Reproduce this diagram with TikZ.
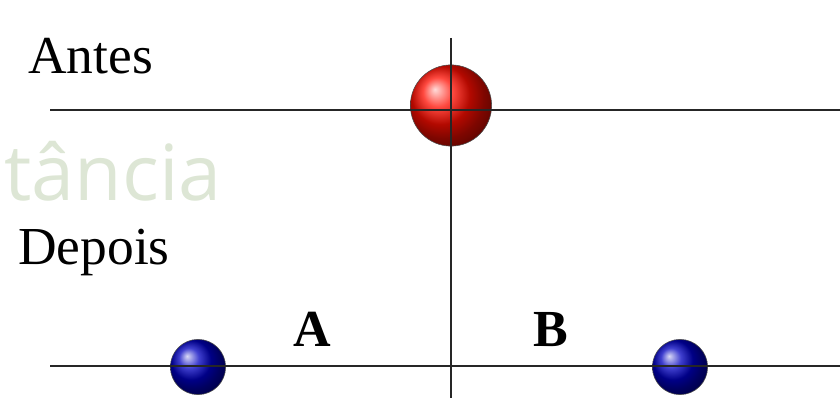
\documentclass[tikz,border=0pt]{standalone}
\usepackage{fontspec}
\setmainfont{Liberation Serif}
\newfontfamily\wmfont{Open Sans}
\usetikzlibrary{positioning}
\definecolor{wmgreen}{RGB}{221,230,213}

\begin{document}
\begin{tikzpicture}[x=0.025cm, y=-0.025cm,
        lbl/.style={inner sep=0pt, font=\fontsize{38}{40}\selectfont},
        axis/.style={line width=1.3pt, black!85},
        ball/.style={circle, inner sep=0pt, draw=black!70, thin}]
            \useasboundingbox (0,0) rectangle (840,398);
            \node[anchor=base east, inner sep=0pt, text=wmgreen, font=\wmfont\fontsize{55}{60}\selectfont] (wm) at (222,201) {tância};
            \coordinate (topL) at (50,110);
            \coordinate (topR) at (840,110);
            \coordinate (botL) at (50,366);
            \coordinate (botR) at (840,366);
            \coordinate (axT) at (451,38);
            \coordinate (axB) at (451,398);
            \node[ball, minimum size=2.03cm, ball color=red!90!orange] (red) at (451,105.5) {};
            \node[ball, minimum size=1.38cm, ball color=blue!75!black] (blueA) at (198,367) {};
            \node[ball, minimum size=1.38cm, ball color=blue!75!black] (blueB) at (680,367) {};
            \draw[axis] (topL) -- (topR);
            \draw[axis] (botL) -- (botR);
            \draw[axis] (axT) -- (axB);
            \node[lbl, anchor=base west] (antes) at (28,74) {Antes};
            \node[lbl, anchor=base west] (depois) at (18,265) {Depois};
            \node[lbl, anchor=base, font=\fontsize{37}{40}\selectfont\bfseries] (A) at (312,347) {A};
            \node[lbl, anchor=base, font=\fontsize{37}{40}\selectfont\bfseries] (B) at (551,347) {B};
        \end{tikzpicture}
\end{document}
